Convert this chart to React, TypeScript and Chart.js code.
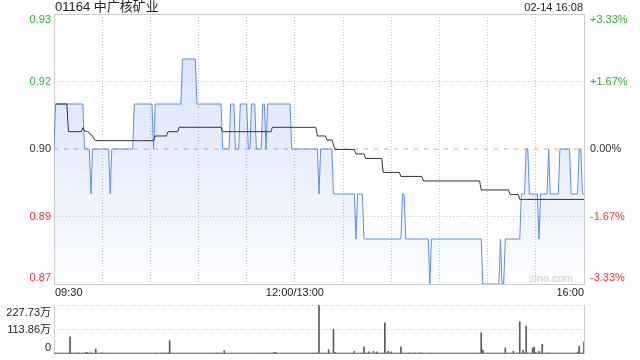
import React, { useEffect, useRef } from 'react';
import { Chart, registerables } from 'chart.js';

Chart.register(...registerables);

// ---------- data ----------
const stockTitle = '01164 中广核矿业';
const stampText = '02-14 16:08';
const watermark = 'sina.com';
const prevClose = 0.9;

// minutes after 09:30 (lunch break removed), price at that minute
const priceMinutes = [0, 1, 18, 19, 22, 23, 24, 34, 35, 36, 49, 50, 61, 62, 63, 79, 80, 88, 89, 104, 105, 109, 110, 112, 113, 115, 116, 120, 121, 122, 123, 125, 126, 129, 130, 131, 132, 133, 147, 148, 164, 165, 166, 173, 174, 187, 188, 189, 192, 193, 216, 217, 218, 219, 233, 234, 235, 266, 267, 277, 278, 279, 280, 281, 290, 291, 293, 294, 295, 296, 301, 302, 303, 307, 308, 309, 314, 315, 321, 322, 326, 327, 328, 329, 330];
const priceValues = [0.90, 0.91, 0.91, 0.90, 0.90, 0.89, 0.90, 0.90, 0.89, 0.90, 0.90, 0.91, 0.91, 0.90, 0.91, 0.91, 0.92, 0.92, 0.91, 0.91, 0.90, 0.90, 0.91, 0.91, 0.90, 0.90, 0.91, 0.91, 0.90, 0.90, 0.91, 0.91, 0.90, 0.90, 0.91, 0.91, 0.90, 0.91, 0.91, 0.90, 0.90, 0.89, 0.90, 0.90, 0.89, 0.89, 0.88, 0.89, 0.89, 0.88, 0.88, 0.89, 0.89, 0.88, 0.88, 0.87, 0.88, 0.88, 0.87, 0.87, 0.88, 0.87, 0.87, 0.88, 0.88, 0.89, 0.89, 0.90, 0.90, 0.89, 0.89, 0.88, 0.89, 0.89, 0.90, 0.89, 0.89, 0.90, 0.90, 0.89, 0.89, 0.90, 0.90, 0.89, 0.89];

const avgMinutes = [1, 8, 9, 17, 18, 19, 21, 22, 23, 24, 25, 26, 62, 63, 70, 71, 77, 78, 104, 105, 135, 136, 163, 164, 169, 170, 173, 175, 187, 188, 193, 194, 204, 205, 215, 216, 229, 230, 265, 266, 283, 284, 289, 290, 330];
const avgValues = [0.91, 0.91, 0.90385, 0.90385, 0.90474, 0.904, 0.90385, 0.90363, 0.90311, 0.90289, 0.90215, 0.90185, 0.90185, 0.90289, 0.90289, 0.90385, 0.90385, 0.90482, 0.90482, 0.90385, 0.90385, 0.90482, 0.90482, 0.90289, 0.90289, 0.902, 0.902, 0.8999, 0.8999, 0.8989, 0.8989, 0.8979, 0.8979, 0.8948, 0.8948, 0.8939, 0.8939, 0.8929, 0.8929, 0.8909, 0.8909, 0.8899, 0.8899, 0.8888, 0.8888];

// volume per minute (万股), minute 0 .. 330
const volumes = [
  6, 3, 2, 1, 2, 3, 1, 2, 1, 2, 80, 2, 1, 3, 2, 6, 2, 1, 3, 2, 8, 6, 2, 5, 4, 3, 23, 2, 1, 4,
  6, 2, 1, 3, 1, 2, 2, 1, 2, 3, 1, 2, 1, 2, 3, 1, 2, 1, 2, 1, 2, 3, 1, 2, 1, 2, 1, 3, 2, 1,
  2, 1, 3, 2, 1, 2, 1, 4, 2, 3, 2, 6, 62, 3, 2, 1, 4, 2, 1, 2, 1, 2, 1, 3, 2, 1, 2, 1, 2, 1,
  2, 1, 2, 3, 1, 2, 1, 2, 1, 2, 3, 1, 2, 1, 2, 3, 15, 2, 1, 4, 3, 2, 1, 2, 1, 3, 2, 1, 2, 1,
  2, 3, 1, 2, 1, 2, 3, 1, 2, 1, 2, 1, 3, 2, 1, 2, 4, 8, 7, 3, 2, 1, 2, 3, 1, 2, 1, 2, 3, 1,
  2, 1, 3, 2, 1, 2, 1, 2, 3, 1, 2, 1, 2, 3, 1, 227.73, 3, 2, 4, 2, 3, 20, 2, 3, 115, 8, 2, 3, 1, 2,
  1, 2, 3, 1, 2, 1, 3, 12, 2, 1, 2, 3, 2, 33, 2, 1, 10, 3, 2, 12, 2, 10, 3, 2, 4, 3, 145, 6, 12, 3,
  10, 2, 3, 1, 4, 2, 32, 3, 2, 1, 2, 5, 2, 1, 3, 2, 1, 2, 6, 2, 1, 2, 1, 3, 2, 1, 2, 1, 4, 2,
  1, 2, 1, 2, 3, 1, 2, 1, 2, 1, 3, 2, 1, 2, 1, 2, 1, 3, 2, 1, 2, 1, 2, 1, 3, 2, 99, 18, 2, 1,
  2, 1, 3, 2, 1, 2, 1, 2, 3, 4, 2, 28, 2, 1, 3, 2, 12, 3, 2, 4, 150, 3, 18, 6, 130, 4, 3, 2, 28, 32,
  6, 3, 12, 4, 45, 3, 2, 6, 3, 2, 4, 3, 2, 5, 3, 2, 4, 3, 2, 3, 2, 4, 3, 2, 5, 3, 9, 36, 4, 3,
  57,
];

const yTicks = [0.87, 0.885, 0.9, 0.915, 0.93];
const leftLabels = ['0.87', '0.89', '0.90', '0.92', '0.93'];
const rightLabels = ['-3.33%', '-1.67%', '0.00%', '+1.67%', '+3.33%'];
const xGridMinutes = [0, 30, 60, 90, 120, 150, 180, 210, 240, 270, 300, 330];
const xLabelMinutes = [0, 150, 330];
const xLabels = ['09:30', '12:00/13:00', '16:00'];
const volTicks = [0, 113.86, 227.73];
const volLabels = ['0', '113.86万', '227.73万'];

// ---------- styles ----------
const FONT = '"Liberation Sans", Arial, "Noto Sans CJK SC", sans-serif';
const UP = '#2fae2f';
const DOWN = '#f03535';
const FLAT = '#333333';
const FRAME = '#cccccc';
const GRID = '#c4c4c4';

const colorFor = (v: number) =>
  Math.abs(v - prevClose) < 1e-9 ? FLAT : v > prevClose ? UP : DOWN;

const pricePlugin = {
  id: 'priceDecor',
  beforeDatasetsDraw(chart: any) {
    const { ctx, chartArea: a } = chart;
    ctx.save();
    ctx.strokeStyle = FRAME;
    ctx.lineWidth = 1;
    ctx.strokeRect(Math.round(a.left) + 0.5, Math.round(a.top) + 0.5, Math.round(a.right - a.left), Math.round(a.bottom - a.top));
    ctx.restore();
  },
  afterDraw(chart: any) {
    const { ctx, chartArea: a, scales } = chart;
    const y = scales.y;
    const x = scales.x;
    ctx.save();
    ctx.textBaseline = 'middle';
    // title & time stamp
    ctx.fillStyle = '#222';
    ctx.font = '13px ' + FONT;
    ctx.textAlign = 'left';
    ctx.fillText(stockTitle, a.left + 1, 7);
    ctx.font = '11px ' + FONT;
    ctx.textAlign = 'right';
    ctx.fillText(stampText, a.right - 1, 8);
    // y labels
    ctx.font = '11px ' + FONT;
    yTicks.forEach((v, i) => {
      let py = y.getPixelForValue(v);
      if (i === yTicks.length - 1) py += 6;
      if (i === 0) py -= 6.5;
      const c = colorFor(v);
      ctx.fillStyle = c;
      ctx.textAlign = 'right';
      ctx.fillText(leftLabels[i], a.left - 3, py);
      ctx.textAlign = 'left';
      ctx.fillText(rightLabels[i], a.right + 6, py);
    });
    // x labels
    ctx.fillStyle = '#222';
    xLabelMinutes.forEach((m, i) => {
      const px = x.getPixelForValue(m);
      ctx.textAlign = i === 0 ? 'left' : i === xLabelMinutes.length - 1 ? 'right' : 'center';
      ctx.fillText(xLabels[i], px + (i === 0 ? 1 : 0), a.bottom + 9);
    });
    // watermark
    ctx.fillStyle = '#cfcfcf';
    ctx.font = '11px ' + FONT;
    ctx.textAlign = 'right';
    ctx.fillText(watermark, a.right - 11, a.bottom - 5);
    ctx.restore();
  },
};

const volPlugin = {
  id: 'volDecor',
  beforeDatasetsDraw(chart: any) {
    const { ctx, chartArea: a } = chart;
    ctx.save();
    ctx.strokeStyle = FRAME;
    ctx.lineWidth = 1;
    ctx.beginPath();
    ctx.moveTo(Math.round(a.left) + 0.5, a.top);
    ctx.lineTo(Math.round(a.left) + 0.5, a.bottom);
    ctx.moveTo(Math.round(a.right) + 0.5, a.top);
    ctx.lineTo(Math.round(a.right) + 0.5, a.bottom);
    ctx.stroke();
    ctx.restore();
  },
  afterDraw(chart: any) {
    const { ctx, chartArea: a, scales } = chart;
    const y = scales.y;
    ctx.save();
    ctx.textBaseline = 'middle';
    ctx.font = '11px ' + FONT;
    ctx.fillStyle = '#222';
    ctx.textAlign = 'right';
    volTicks.forEach((v, i) => {
      let py = y.getPixelForValue(v);
      if (i === volTicks.length - 1) py += 8;
      if (i === 0) py -= 6;
      ctx.fillText(volLabels[i], a.left - 3, py);
    });
    ctx.restore();
  },
};

export default function App() {
  const priceRef = useRef<HTMLCanvasElement>(null);
  const volRef = useRef<HTMLCanvasElement>(null);

  useEffect(() => {
    const priceData = priceMinutes.map((m, i) => ({ x: m, y: priceValues[i] }));
    const avgData = avgMinutes.map((m, i) => ({ x: m, y: avgValues[i] }));
    const closeData = [
      { x: xGridMinutes[0], y: prevClose },
      { x: xGridMinutes[xGridMinutes.length - 1], y: prevClose },
    ];

    const pc = new Chart(priceRef.current as HTMLCanvasElement, {
      type: 'line',
      data: {
        datasets: [
          {
            data: avgData,
            borderColor: '#333333',
            borderWidth: 1,
            pointRadius: 0,
            fill: false,
            tension: 0,
          },
          {
            data: priceData,
            borderColor: '#5b8fe8',
            borderWidth: 1,
            pointRadius: 0,
            tension: 0,
            fill: 'start',
            backgroundColor: (ctx: any) => {
              const { chart } = ctx;
              const area = chart.chartArea;
              if (!area) return 'rgba(100,150,235,0.15)';
              const g = chart.ctx.createLinearGradient(0, area.top, 0, area.bottom);
              g.addColorStop(0, 'rgba(100,150,235,0.28)');
              g.addColorStop(0.5, 'rgba(100,150,235,0.16)');
              g.addColorStop(1, 'rgba(100,150,235,0.02)');
              return g;
            },
          },
          {
            data: closeData,
            borderColor: '#f0a070',
            borderWidth: 1,
            borderDash: [4, 6],
            pointRadius: 0,
            fill: false,
          },
        ],
      },
      options: {
        responsive: false,
        devicePixelRatio: 1,
        animation: false,
        events: [],
        parsing: false as any,
        layout: { padding: { left: 54, right: 56, top: 14, bottom: 16 }, autoPadding: false } as any,
        plugins: { legend: { display: false }, tooltip: { enabled: false } },
        scales: {
          x: {
            type: 'linear',
            min: 0,
            max: 330,
            afterBuildTicks: (s: any) => {
              s.ticks = xGridMinutes.map((v) => ({ value: v }));
            },
            ticks: { display: false },
            grid: { color: GRID, lineWidth: 1, drawTicks: false },
            border: { display: false, dash: [1, 2] },
          },
          y: {
            type: 'linear',
            min: yTicks[0],
            max: yTicks[yTicks.length - 1],
            afterBuildTicks: (s: any) => {
              s.ticks = yTicks.map((v) => ({ value: v }));
            },
            ticks: { display: false },
            grid: {
              color: (c: any) => (c.tick && Math.abs(c.tick.value - prevClose) < 1e-9 ? 'rgba(0,0,0,0)' : GRID),
              lineWidth: 1,
              drawTicks: false,
            },
            border: { display: false, dash: [1, 2] },
          },
        },
      },
      plugins: [pricePlugin],
    } as any);

    const volData = volumes.map((v, i) => ({ x: i, y: v }));
    const vc = new Chart(volRef.current as HTMLCanvasElement, {
      type: 'bar',
      data: {
        datasets: [
          {
            data: volData,
            backgroundColor: '#5a5a5a',
            barThickness: 1,
            minBarLength: 1,
            borderWidth: 0,
          },
        ],
      },
      options: {
        responsive: false,
        devicePixelRatio: 1,
        animation: false,
        events: [],
        layout: { padding: { left: 54, right: 56, top: 5, bottom: 6 }, autoPadding: false } as any,
        plugins: { legend: { display: false }, tooltip: { enabled: false } },
        scales: {
          x: {
            type: 'linear',
            min: 0,
            max: 330,
            offset: false,
            ticks: { display: false },
            grid: { display: false, offset: false, drawTicks: false },
            border: { display: false },
          },
          y: {
            type: 'linear',
            min: volTicks[0],
            max: volTicks[volTicks.length - 1],
            afterBuildTicks: (s: any) => {
              s.ticks = volTicks.map((v) => ({ value: v }));
            },
            ticks: { display: false },
            grid: {
              color: (c: any) => (c.tick && c.tick.value === 0 ? 'rgba(0,0,0,0)' : GRID),
              lineWidth: 1,
              drawTicks: false,
            },
            border: { display: false, dash: [1, 2] },
          },
        },
      },
      plugins: [volPlugin],
    } as any);

    return () => {
      pc.destroy();
      vc.destroy();
    };
  }, []);

  return (
    <div style={{ position: 'fixed', left: 0, top: 0, width: 640, height: 360, background: '#fff' }}>
      <canvas ref={priceRef} width={640} height={300} style={{ position: 'absolute', left: 0, top: 0 }} />
      <canvas ref={volRef} width={640} height={60} style={{ position: 'absolute', left: 0, top: 300 }} />
    </div>
  );
}
